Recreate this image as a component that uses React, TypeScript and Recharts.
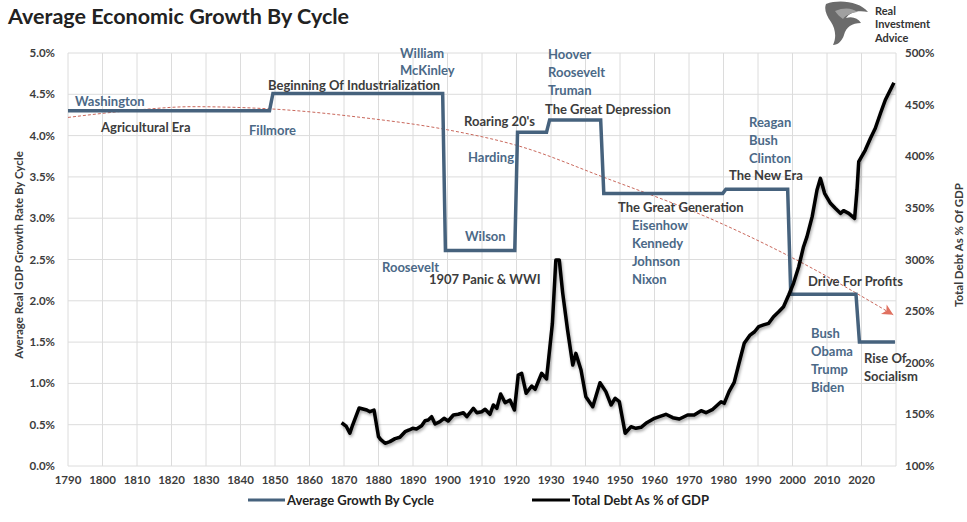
import React from 'react';
import { LineChart, Line, XAxis, YAxis, CartesianGrid } from 'recharts';

const xTicks = [1790, 1800, 1810, 1820, 1830, 1840, 1850, 1860, 1870, 1880, 1890, 1900, 1910, 1920, 1930, 1940, 1950, 1960, 1970, 1980, 1990, 2000, 2010, 2020, 2030];
const growthTicks = [0, 0.5, 1, 1.5, 2, 2.5, 3, 3.5, 4, 4.5, 5];
const debtTicks = [100, 150, 200, 250, 300, 350, 400, 450, 500];

const growthYears = [1790, 1848.4, 1849.4, 1898.6, 1899.4, 1919.5, 1920.3, 1928.7, 1929.6, 1944.4, 1945.3, 1979.8, 1980.7, 1998.6, 1999.5, 2018.4, 2019.4, 2029.7];
const growthRates = [4.30, 4.30, 4.51, 4.51, 2.61, 2.61, 4.04, 4.04, 4.19, 4.19, 3.30, 3.30, 3.35, 3.35, 2.08, 2.08, 1.50, 1.50];

const debtYears = [1869.3, 1870.6, 1871.7, 1872.5, 1874.4, 1876.6, 1877.5, 1878.7, 1880.0, 1880.6, 1881.9, 1883.3, 1884.8, 1886.2, 1887.7, 1888.9, 1889.9, 1891.0, 1892.5, 1893.5, 1894.4, 1895.4, 1896.4, 1897.8, 1899.0, 1900.2, 1901.7, 1903.1, 1904.6, 1905.6, 1907.5, 1908.5, 1909.9, 1910.9, 1912.3, 1913.3, 1914.3, 1915.4, 1916.7, 1918.1, 1919.4, 1920.5, 1921.5, 1922.8, 1924.4, 1925.4, 1927.3, 1928.7, 1930.4, 1931.4, 1932.4, 1933.4, 1934.8, 1936.3, 1937.2, 1938.7, 1940.1, 1942.1, 1944.2, 1945.9, 1947.4, 1948.6, 1949.8, 1951.5, 1953.2, 1954.6, 1956.1, 1957.5, 1960.0, 1961.4, 1963.3, 1965.3, 1967.2, 1969.6, 1971.5, 1973.5, 1974.9, 1976.9, 1979.3, 1980.2, 1981.6, 1983.1, 1984.5, 1986.0, 1987.6, 1989.0, 1990.2, 1991.6, 1993.1, 1994.5, 1996.0, 1997.4, 1998.9, 2000.3, 2001.8, 2003.2, 2004.2, 2005.7, 2007.1, 2008.1, 2009.3, 2011.0, 2012.4, 2013.9, 2014.8, 2016.3, 2018.0, 2018.7, 2019.2, 2021.1, 2022.6, 2024.0, 2025.5, 2026.9, 2029.4];
const debtValues = [141.9, 138.7, 131.7, 139.7, 156.2, 154.2, 152.6, 154.2, 128.4, 125.8, 122.0, 123.6, 126.5, 127.8, 133.2, 134.9, 136.5, 135.8, 139.0, 143.9, 144.6, 147.8, 140.7, 142.9, 146.2, 143.6, 149.4, 150.1, 151.6, 147.8, 155.9, 151.6, 152.6, 154.9, 150.1, 159.1, 155.9, 169.7, 161.3, 163.9, 154.2, 188.1, 189.8, 170.4, 177.5, 174.3, 189.8, 184.3, 238.0, 299.5, 299.5, 267.2, 231.7, 197.8, 209.1, 193.0, 167.1, 157.4, 180.7, 172.0, 159.1, 165.6, 162.3, 131.7, 138.1, 136.5, 137.5, 141.3, 146.2, 147.8, 150.1, 146.8, 145.5, 149.4, 149.4, 153.6, 151.6, 154.9, 162.3, 160.7, 172.0, 181.0, 199.5, 218.8, 226.5, 230.0, 235.0, 236.6, 238.2, 244.6, 249.4, 254.3, 265.6, 276.9, 293.0, 312.4, 322.1, 341.5, 367.3, 378.6, 364.1, 354.4, 349.6, 344.7, 347.3, 344.7, 339.9, 367.3, 394.7, 406.0, 417.4, 427.1, 441.6, 454.5, 471.2];

const trendYears = [1790, 1810, 1826, 1850, 1875, 1900, 1921, 1945, 1977, 2000, 2029.2];
const trendValues = [4.22, 4.31, 4.35, 4.32, 4.22, 4.07, 3.87, 3.50, 2.98, 2.52, 1.83];

const growthData = growthYears.map((year, i) => ({ year, growth: growthRates[i] }));
const debtData = debtYears.map((year, i) => ({ year, debt: debtValues[i] }));
const trendData = trendYears.map((year, i) => ({ year, trend: trendValues[i] }));

const BLUE = '#46627d';
const BLUE_TEXT = '#4b6987';
const DARK = '#3c3c3c';
const FONT = 'Lato, "Open Sans", sans-serif';

type Note = { t: string; x: number; y: number; c: string };
const notes: Note[] = [
  { t: 'Washington', x: 75, y: 101, c: BLUE_TEXT },
  { t: 'Agricultural Era', x: 101, y: 127, c: DARK },
  { t: 'Fillmore', x: 249, y: 130, c: BLUE_TEXT },
  { t: 'Beginning Of Industrialization', x: 268, y: 85, c: DARK },
  { t: 'William', x: 400, y: 53, c: BLUE_TEXT },
  { t: 'McKinley', x: 400, y: 70, c: BLUE_TEXT },
  { t: "Roaring 20's", x: 464, y: 121, c: DARK },
  { t: 'Harding', x: 468, y: 157, c: BLUE_TEXT },
  { t: 'Wilson', x: 465, y: 236, c: BLUE_TEXT },
  { t: 'Roosevelt', x: 382, y: 267, c: BLUE_TEXT },
  { t: '1907 Panic & WWI', x: 429, y: 279, c: DARK },
  { t: 'Hoover', x: 548, y: 54, c: BLUE_TEXT },
  { t: 'Roosevelt', x: 548, y: 72, c: BLUE_TEXT },
  { t: 'Truman', x: 548, y: 90, c: BLUE_TEXT },
  { t: 'The Great Depression', x: 545, y: 109, c: DARK },
  { t: 'The Great Generation', x: 618, y: 207, c: DARK },
  { t: 'Eisenhow', x: 632, y: 225, c: BLUE_TEXT },
  { t: 'Kennedy', x: 632, y: 243, c: BLUE_TEXT },
  { t: 'Johnson', x: 632, y: 261, c: BLUE_TEXT },
  { t: 'Nixon', x: 632, y: 279, c: BLUE_TEXT },
  { t: 'Reagan', x: 749, y: 122, c: BLUE_TEXT },
  { t: 'Bush', x: 749, y: 140, c: BLUE_TEXT },
  { t: 'Clinton', x: 749, y: 158, c: BLUE_TEXT },
  { t: 'The New Era', x: 729, y: 175, c: DARK },
  { t: 'Drive For Profits', x: 808, y: 281, c: DARK },
  { t: 'Bush', x: 811, y: 333, c: BLUE_TEXT },
  { t: 'Obama', x: 811, y: 351, c: BLUE_TEXT },
  { t: 'Trump', x: 811, y: 369, c: BLUE_TEXT },
  { t: 'Biden', x: 811, y: 387, c: BLUE_TEXT },
  { t: 'Rise Of', x: 864, y: 358, c: DARK },
  { t: 'Socialism', x: 864, y: 376, c: DARK },
];

const logoLines = ['Real', 'Investment', 'Advice'];

const TrendDot = (props: any) => {
  const { cx, cy, index } = props;
  if (index !== trendYears.length - 1 || cx == null) return <g key={`td-${index}`} />;
  return (
    <polygon
      key={`td-${index}`}
      points="0,0 -11,-5.5 -8,0 -11,5.5"
      fill="#e0705f"
      transform={`translate(${cx},${cy}) rotate(31)`}
    />
  );
};

export default function App() {
  return (
    <div style={{ position: 'absolute', left: 0, top: 0, width: 967, height: 522, background: '#fff', fontFamily: FONT }}>
      <style>{`.debt-line path { filter: drop-shadow(1.5px 2px 1.5px rgba(0,0,0,0.35)); }`}</style>
      <LineChart
        width={967}
        height={522}
        margin={{ top: 53, right: 0, bottom: 26, left: 0 }}
      >
        <CartesianGrid yAxisId="left" stroke="#dcdcdc" strokeWidth={1} />
        <XAxis
          dataKey="year"
          type="number"
          domain={[1790, 2030]}
          ticks={xTicks}
          tickFormatter={(v: number) => (v === 2030 ? '' : String(v))}
          axisLine={false}
          tickLine={false}
          tickMargin={4}
          height={30}
          interval={0}
          allowDataOverflow
          tick={{ fill: DARK, fontSize: 11.5, fontFamily: FONT, fontWeight: 700 }}
        />
        <YAxis
          yAxisId="left"
          domain={[0, 5]}
          ticks={growthTicks}
          tickFormatter={(v: number) => `${v.toFixed(1)}%`}
          axisLine={false}
          tickLine={false}
          tickMargin={7}
          width={68}
          interval={0}
          tick={{ fill: DARK, fontSize: 11.5, fontFamily: FONT, fontWeight: 700 }}
        />
        <YAxis
          yAxisId="right"
          orientation="right"
          domain={[100, 500]}
          ticks={debtTicks}
          tickFormatter={(v: number) => `${v}%`}
          axisLine={false}
          tickLine={false}
          tickMargin={3}
          width={71}
          interval={0}
          tick={{ fill: DARK, fontSize: 11.5, fontFamily: FONT, fontWeight: 700, textAnchor: 'start' }}
        />
        <Line
          yAxisId="left"
          data={trendData}
          dataKey="trend"
          type="monotone"
          stroke="#c9685c"
          strokeWidth={1}
          strokeDasharray="3 2"
          dot={TrendDot}
          activeDot={false}
          isAnimationActive={false}
        />
        <Line
          yAxisId="left"
          data={growthData}
          dataKey="growth"
          type="linear"
          stroke={BLUE}
          strokeWidth={3.5}
          dot={false}
          activeDot={false}
          isAnimationActive={false}
        />
        <Line
          yAxisId="right"
          data={debtData}
          dataKey="debt"
          type="linear"
          stroke="#000"
          strokeWidth={3.5}
          strokeLinejoin="round"
          className="debt-line"
          dot={false}
          activeDot={false}
          isAnimationActive={false}
        />
      </LineChart>
      <svg width={967} height={522} style={{ position: 'absolute', left: 0, top: 0, pointerEvents: 'none' }}>
        <text x={8} y={24} fontSize={21.5} fontWeight={700} fill="#222" fontFamily={FONT}>Average Economic Growth By Cycle</text>
        <g>
          <path d="M826,4 C840,-1 860,2 868,12 C858,10 850,12 846,18 C852,16 858,18 861,23 C852,23 846,27 844,35 C842,41 838,45 833,45 C837,37 835,28 831,22 C826,15 824,9 826,4 Z" fill="#6b6b6b" />
          <path d="M835,11 C844,7 853,8 857,12 C851,13 846,15 843,19 C840,17 837,14 835,11 Z" fill="#a0a0a0" />
        </g>
        {logoLines.map((s, i) => (
          <text key={s} x={875} y={10 + i * 13.5} dominantBaseline="central" fontFamily={FONT} fontWeight={700} fontSize={11} fill="#333">{s}</text>
        ))}
        {notes.map((n, i) => (
          <text key={i} x={n.x} y={n.y} dominantBaseline="central" fontFamily={FONT} fontWeight={700} fontSize={13} fill={n.c}>{n.t}</text>
        ))}
        <text transform="translate(18,255) rotate(-90)" textAnchor="middle" dominantBaseline="central" fontFamily={FONT} fontWeight={700} fontSize={11.5} fill={DARK}>Average Real GDP Growth Rate By Cycle</text>
        <text transform="translate(958,245) rotate(-90)" textAnchor="middle" dominantBaseline="central" fontFamily={FONT} fontWeight={700} fontSize={11.5} fill={DARK}>Total Debt As % Of GDP</text>
        <line x1={248} x2={285} y1={500} y2={500} stroke={BLUE} strokeWidth={3} />
        <text x={287} y={500} dominantBaseline="central" fontFamily={FONT} fontWeight={700} fontSize={13} fill="#222">Average Growth By Cycle</text>
        <line x1={532} x2={570} y1={500} y2={500} stroke="#000" strokeWidth={3} />
        <text x={572} y={500} dominantBaseline="central" fontFamily={FONT} fontWeight={700} fontSize={13} fill="#222">Total Debt As % of GDP</text>
      </svg>
    </div>
  );
}
